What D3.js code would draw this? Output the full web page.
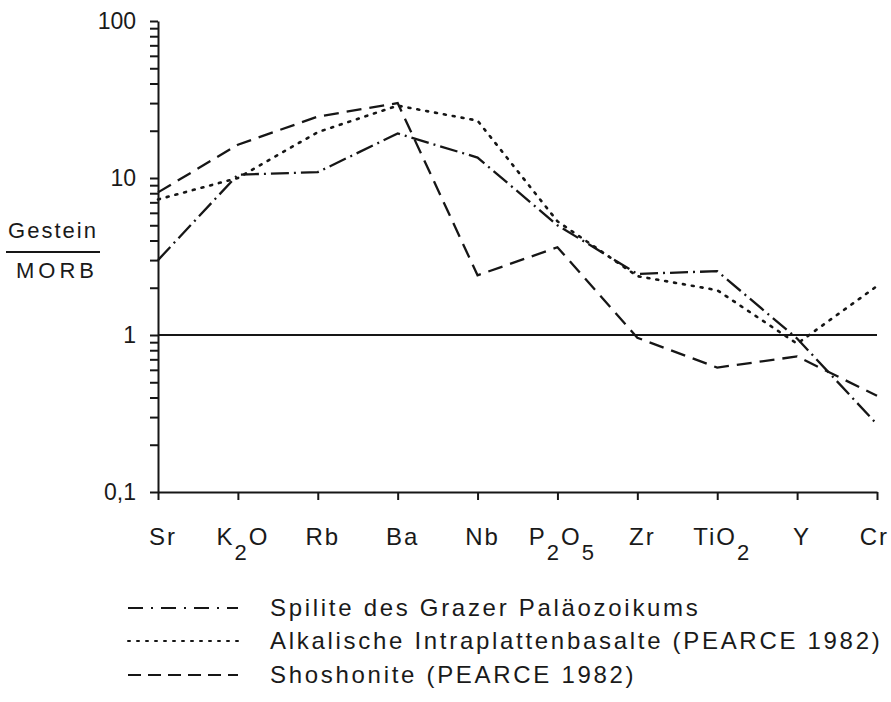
<!DOCTYPE html>
<html>
<head>
<meta charset="utf-8">
<script src="https://cdn.jsdelivr.net/npm/d3@7"></script>
<style>
  body { margin: 0; background: #fff; }
  svg text { fill: #1a1a1a; }
</style>
</head>
<body>
<svg id="chart" width="891" height="702"></svg>
<script>
// ---- data ----
const categories = ["Sr", "K2O", "Rb", "Ba", "Nb", "P2O5", "Zr", "TiO2", "Y", "Cr"];
// label pieces: [text, isSubscript]
const categoryLabels = [
  [["Sr", false]],
  [["K", false], ["2", true], ["O", false]],
  [["Rb", false]],
  [["Ba", false]],
  [["Nb", false]],
  [["P", false], ["2", true], ["O", false], ["5", true]],
  [["Zr", false]],
  [["TiO", false], ["2", true]],
  [["Y", false]],
  [["Cr", false]]
];
const spilite    = [3.0, 10.5, 10.9, 19.2, 13.5, 5.0, 2.45, 2.55, 0.95, 0.27];
const alkaline   = [7.3, 10.0, 19.6, 28.9, 23.2, 5.3, 2.37, 1.93, 0.88, 2.05];
const shoshonite = [8.1, 16.3, 24.6, 30.0, 2.4, 3.62, 0.96, 0.62, 0.73, 0.41];
const seriesNames = [
  "Spilite des Grazer Paläozoikums",
  "Alkalische Intraplattenbasalte (PEARCE 1982)",
  "Shoshonite (PEARCE 1982)"
];
const yTickValues = [0.1,0.2,0.3,0.4,0.5,0.6,0.7,0.8,0.9,1,2,3,4,5,6,7,8,9,10,20,30,40,50,60,70,80,90,100];
const yMajorLabels = {0.1: "0,1", 1: "1", 10: "10", 100: "100"};

// ---- drawing ----
const svg = d3.select("#chart");
const ink = "#161616";
const letterFont = "'Liberation Sans', Arial, sans-serif";

const x = d3.scalePoint().domain(categories).range([158, 877]);
const y = d3.scaleLog().domain([0.1, 100]).range([492, 21]);

// y axis
const yAxis = d3.axisLeft(y)
  .tickValues(yTickValues)
  .tickSize(8)
  .tickSizeOuter(0)
  .tickFormat(d => yMajorLabels[d] !== undefined ? yMajorLabels[d] : "");
const gy = svg.append("g").attr("transform", "translate(158,0)").call(yAxis);
gy.select(".domain").attr("stroke", ink).attr("stroke-width", 2);
gy.selectAll(".tick line").attr("stroke", ink).attr("stroke-width", 2);
gy.selectAll(".tick text")
  .attr("x", -22)
  .style("font-family", letterFont)
  .style("font-size", "23px")
  .attr("fill", ink);

// x axis
const xAxis = d3.axisBottom(x).tickSize(8).tickSizeOuter(0).tickFormat("");
const gx = svg.append("g").attr("transform", "translate(0,492)").call(xAxis);
gx.select(".domain").attr("stroke", ink).attr("stroke-width", 2);
gx.selectAll(".tick line").attr("stroke", ink).attr("stroke-width", 2);

// x labels with subscripts
categories.forEach((c, i) => {
  const t = svg.append("text")
    .attr("x", x(c) + 5)
    .attr("y", 545)
    .attr("text-anchor", "middle")
    .style("font-family", letterFont)
    .style("font-size", "24px")
    .style("letter-spacing", "2px");
  let shifted = false;
  categoryLabels[i].forEach(([s, sub]) => {
    const ts = t.append("tspan").text(s);
    if (sub && !shifted) { ts.attr("dy", 15).style("font-size", "22px"); shifted = true; }
    else if (!sub && shifted) { ts.attr("dy", -15); shifted = false; }
    else if (sub) { ts.style("font-size", "22px"); }
  });
  // keep label inside the page
  const bb = t.node().getBBox();
  if (bb.x + bb.width > 889) t.attr("x", x(c) + 5 - (bb.x + bb.width - 889));
});

// reference line at 1
svg.append("line")
  .attr("x1", x(categories[0])).attr("x2", x(categories[categories.length - 1]))
  .attr("y1", y(1)).attr("y2", y(1))
  .attr("stroke", ink).attr("stroke-width", 1.8);

// series
const dashes = ["18,5,2,5", "2,7", "15,8"];
const caps = ["butt", "round", "butt"];
const seriesData = [spilite, alkaline, shoshonite];
const line = d3.line().x((d, i) => x(categories[i])).y(d => y(d));
seriesData.forEach((s, k) => {
  svg.append("path")
    .datum(s)
    .attr("d", line)
    .attr("fill", "none")
    .attr("stroke", ink)
    .attr("stroke-width", k === 1 ? 2.6 : 2.3)
    .attr("stroke-linecap", caps[k])
    .attr("stroke-dasharray", dashes[k]);
});

// y label fraction
svg.append("text").attr("x", 53).attr("y", 238).attr("text-anchor", "middle")
  .style("font-family", letterFont).style("font-size", "22px").style("letter-spacing", "2px")
  .text("Gestein");
svg.append("line").attr("x1", 6).attr("x2", 100).attr("y1", 252).attr("y2", 252)
  .attr("stroke", ink).attr("stroke-width", 2);
svg.append("text").attr("x", 57).attr("y", 278).attr("text-anchor", "middle")
  .style("font-family", letterFont).style("font-size", "22px").style("letter-spacing", "4px")
  .text("MORB");

// legend
const legendDash = ["15,8,2,8", "2,7", "13,7"];
const legendY = [608, 641, 675];
seriesNames.forEach((name, k) => {
  svg.append("line")
    .attr("x1", 128).attr("x2", 238)
    .attr("y1", legendY[k]).attr("y2", legendY[k])
    .attr("stroke", ink).attr("stroke-width", 2)
    .attr("stroke-linecap", caps[k])
    .attr("stroke-dasharray", legendDash[k]);
  svg.append("text")
    .attr("x", 270).attr("y", legendY[k] + 8)
    .style("font-family", letterFont)
    .style("font-size", "24px")
    .style("letter-spacing", "2.7px")
    .text(name);
});
</script>
</body>
</html>
